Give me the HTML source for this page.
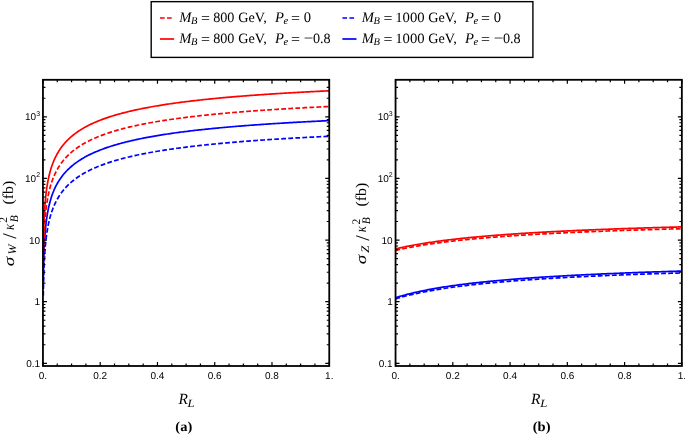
<!DOCTYPE html><html><head><meta charset="utf-8"><title>Cross sections vs R_L</title><style>html,body{margin:0;padding:0;background:#fff;overflow:hidden}svg{display:block;will-change:transform;text-rendering:geometricPrecision}</style></head><body>
<svg width="685" height="434" viewBox="0 0 685 434">
<rect width="685" height="434" fill="#fff"/>
<clipPath id="ca"><rect x="42.95" y="78.80" width="286.30" height="287.20"/></clipPath>
<clipPath id="cb"><rect x="395.55" y="78.80" width="286.30" height="287.20"/></clipPath>
<g clip-path="url(#ca)" fill="none" stroke-width="1.70" stroke-linejoin="round">
<path d="M43.32 295.61 L43.33 294.82 L43.34 294.03 L43.36 293.24 L43.37 292.45 L43.38 291.66 L43.39 290.87 L43.41 290.08 L43.42 289.29 L43.44 288.50 L43.45 287.71 L43.47 286.93 L43.48 286.14 L43.50 285.35 L43.51 284.56 L43.53 283.77 L43.55 282.98 L43.57 282.19 L43.58 281.40 L43.60 280.61 L43.62 279.82 L43.64 279.03 L43.66 278.24 L43.68 277.45 L43.71 276.66 L43.73 275.87 L43.75 275.09 L43.78 274.30 L43.80 273.51 L43.83 272.72 L43.85 271.93 L43.88 271.14 L43.91 270.35 L43.94 269.57 L43.97 268.78 L44.00 267.99 L44.03 267.20 L44.06 266.41 L44.09 265.62 L44.13 264.84 L44.16 264.05 L44.20 263.26 L44.24 262.47 L44.28 261.69 L44.32 260.90 L44.36 260.11 L44.40 259.32 L44.44 258.54 L44.49 257.75 L44.53 256.96 L44.58 256.18 L44.63 255.39 L44.68 254.60 L44.73 253.82 L44.79 253.03 L44.84 252.25 L44.90 251.46 L44.96 250.67 L45.02 249.89 L45.08 249.10 L45.14 248.32 L45.21 247.53 L45.28 246.75 L45.35 245.96 L45.42 245.18 L45.49 244.39 L45.57 243.61 L45.65 242.83 L45.73 242.04 L45.81 241.26 L45.90 240.48 L45.99 239.69 L46.08 238.91 L46.17 238.13 L46.27 237.35 L46.37 236.56 L46.47 235.78 L46.57 235.00 L46.68 234.22 L46.80 233.44 L46.91 232.66 L47.03 231.88 L47.15 231.10 L47.28 230.32 L47.41 229.54 L47.54 228.76 L47.68 227.98 L47.82 227.21 L47.97 226.43 L48.12 225.65 L48.27 224.87 L48.43 224.10 L48.60 223.32 L48.77 222.55 L48.94 221.77 L49.12 221.00 L49.31 220.22 L49.50 219.45 L49.69 218.67 L49.89 217.90 L50.10 217.13 L50.32 216.36 L50.54 215.59 L50.77 214.82 L51.00 214.05 L51.24 213.28 L51.49 212.51 L51.75 211.74 L52.01 210.97 L52.28 210.21 L52.56 209.44 L52.85 208.68 L53.15 207.91 L53.45 207.15 L53.77 206.39 L54.09 205.63 L54.43 204.86 L54.77 204.10 L55.13 203.34 L55.49 202.59 L55.87 201.83 L56.26 201.07 L56.66 200.32 L57.07 199.56 L57.27 199.21 L58.70 196.78 L60.13 194.58 L61.56 192.57 L62.99 190.71 L64.42 188.99 L65.85 187.38 L67.29 185.88 L68.72 184.48 L70.15 183.15 L71.58 181.90 L73.01 180.72 L74.44 179.59 L75.87 178.52 L77.31 177.50 L78.74 176.53 L80.17 175.60 L81.60 174.71 L83.03 173.85 L84.46 173.03 L85.90 172.24 L87.33 171.48 L88.76 170.74 L90.19 170.04 L91.62 169.35 L93.05 168.69 L94.48 168.05 L95.92 167.43 L97.35 166.83 L98.78 166.25 L100.21 165.68 L101.64 165.13 L103.07 164.60 L104.50 164.08 L105.94 163.57 L107.37 163.08 L108.80 162.60 L110.23 162.13 L111.66 161.68 L113.09 161.23 L114.53 160.80 L115.96 160.38 L117.39 159.96 L118.82 159.56 L120.25 159.16 L121.68 158.78 L123.11 158.40 L124.55 158.03 L125.98 157.67 L127.41 157.32 L128.84 156.97 L130.27 156.63 L131.70 156.30 L133.13 155.97 L134.57 155.65 L136.00 155.34 L137.43 155.03 L138.86 154.73 L140.29 154.43 L141.72 154.14 L143.16 153.85 L144.59 153.57 L146.02 153.30 L147.45 153.03 L148.88 152.76 L150.31 152.50 L151.74 152.24 L153.18 151.99 L154.61 151.74 L156.04 151.49 L157.47 151.25 L158.90 151.02 L160.33 150.78 L161.76 150.55 L163.20 150.33 L164.63 150.11 L166.06 149.89 L167.49 149.67 L168.92 149.46 L170.35 149.25 L171.79 149.04 L173.22 148.84 L174.65 148.64 L176.08 148.44 L177.51 148.24 L178.94 148.05 L180.37 147.86 L181.81 147.67 L183.24 147.49 L184.67 147.31 L186.10 147.13 L187.53 146.95 L188.96 146.78 L190.39 146.60 L191.83 146.43 L193.26 146.26 L194.69 146.10 L196.12 145.93 L197.55 145.77 L198.98 145.61 L200.42 145.46 L201.85 145.30 L203.28 145.15 L204.71 144.99 L206.14 144.84 L207.57 144.69 L209.00 144.55 L210.44 144.40 L211.87 144.26 L213.30 144.12 L214.73 143.98 L216.16 143.84 L217.59 143.70 L219.02 143.56 L220.46 143.43 L221.89 143.30 L223.32 143.17 L224.75 143.04 L226.18 142.91 L227.61 142.78 L229.05 142.66 L230.48 142.53 L231.91 142.41 L233.34 142.29 L234.77 142.17 L236.20 142.05 L237.63 141.93 L239.07 141.82 L240.50 141.70 L241.93 141.59 L243.36 141.47 L244.79 141.36 L246.22 141.25 L247.65 141.14 L249.09 141.03 L250.52 140.92 L251.95 140.82 L253.38 140.71 L254.81 140.61 L256.24 140.50 L257.68 140.40 L259.11 140.30 L260.54 140.20 L261.97 140.10 L263.40 140.00 L264.83 139.90 L266.26 139.81 L267.70 139.71 L269.13 139.62 L270.56 139.52 L271.99 139.43 L273.42 139.34 L274.85 139.24 L276.28 139.15 L277.72 139.06 L279.15 138.97 L280.58 138.89 L282.01 138.80 L283.44 138.71 L284.87 138.63 L286.31 138.54 L287.74 138.46 L289.17 138.37 L290.60 138.29 L292.03 138.21 L293.46 138.12 L294.89 138.04 L296.33 137.96 L297.76 137.88 L299.19 137.80 L300.62 137.72 L302.05 137.65 L303.48 137.57 L304.91 137.49 L306.35 137.42 L307.78 137.34 L309.21 137.27 L310.64 137.19 L312.07 137.12 L313.50 137.04 L314.94 136.97 L316.37 136.90 L317.80 136.83 L319.23 136.76 L320.66 136.69 L322.09 136.62 L323.52 136.55 L324.96 136.48 L326.39 136.41 L327.82 136.34 L329.25 136.28" stroke="#0000ff" stroke-dasharray="4.8 2.24" stroke-dashoffset="0.35"/>
<path d="M43.32 279.96 L43.33 279.17 L43.34 278.38 L43.36 277.59 L43.37 276.80 L43.38 276.01 L43.39 275.22 L43.41 274.43 L43.42 273.64 L43.44 272.85 L43.45 272.06 L43.47 271.27 L43.48 270.48 L43.50 269.69 L43.51 268.90 L43.53 268.11 L43.55 267.32 L43.57 266.53 L43.58 265.74 L43.60 264.95 L43.62 264.16 L43.64 263.37 L43.66 262.58 L43.68 261.80 L43.71 261.01 L43.73 260.22 L43.75 259.43 L43.78 258.64 L43.80 257.85 L43.83 257.06 L43.85 256.27 L43.88 255.48 L43.91 254.70 L43.94 253.91 L43.97 253.12 L44.00 252.33 L44.03 251.54 L44.06 250.76 L44.09 249.97 L44.13 249.18 L44.16 248.39 L44.20 247.60 L44.24 246.82 L44.28 246.03 L44.32 245.24 L44.36 244.45 L44.40 243.67 L44.44 242.88 L44.49 242.09 L44.53 241.31 L44.58 240.52 L44.63 239.73 L44.68 238.95 L44.73 238.16 L44.79 237.37 L44.84 236.59 L44.90 235.80 L44.96 235.02 L45.02 234.23 L45.08 233.45 L45.14 232.66 L45.21 231.88 L45.28 231.09 L45.35 230.31 L45.42 229.52 L45.49 228.74 L45.57 227.95 L45.65 227.17 L45.73 226.39 L45.81 225.60 L45.90 224.82 L45.99 224.04 L46.08 223.25 L46.17 222.47 L46.27 221.69 L46.37 220.91 L46.47 220.13 L46.57 219.34 L46.68 218.56 L46.80 217.78 L46.91 217.00 L47.03 216.22 L47.15 215.44 L47.28 214.66 L47.41 213.88 L47.54 213.10 L47.68 212.33 L47.82 211.55 L47.97 210.77 L48.12 209.99 L48.27 209.22 L48.43 208.44 L48.60 207.66 L48.77 206.89 L48.94 206.11 L49.12 205.34 L49.31 204.56 L49.50 203.79 L49.69 203.02 L49.89 202.24 L50.10 201.47 L50.32 200.70 L50.54 199.93 L50.77 199.16 L51.00 198.39 L51.24 197.62 L51.49 196.85 L51.75 196.08 L52.01 195.32 L52.28 194.55 L52.56 193.79 L52.85 193.02 L53.15 192.26 L53.45 191.49 L53.77 190.73 L54.09 189.97 L54.43 189.21 L54.77 188.45 L55.13 187.69 L55.49 186.93 L55.87 186.17 L56.26 185.42 L56.66 184.66 L57.07 183.91 L57.27 183.55 L58.70 181.13 L60.13 178.92 L61.56 176.91 L62.99 175.05 L64.42 173.33 L65.85 171.73 L67.29 170.23 L68.72 168.82 L70.15 167.50 L71.58 166.24 L73.01 165.06 L74.44 163.94 L75.87 162.87 L77.31 161.85 L78.74 160.87 L80.17 159.94 L81.60 159.05 L83.03 158.20 L84.46 157.37 L85.90 156.58 L87.33 155.82 L88.76 155.09 L90.19 154.38 L91.62 153.69 L93.05 153.03 L94.48 152.39 L95.92 151.77 L97.35 151.17 L98.78 150.59 L100.21 150.02 L101.64 149.47 L103.07 148.94 L104.50 148.42 L105.94 147.91 L107.37 147.42 L108.80 146.94 L110.23 146.48 L111.66 146.02 L113.09 145.58 L114.53 145.14 L115.96 144.72 L117.39 144.31 L118.82 143.90 L120.25 143.51 L121.68 143.12 L123.11 142.74 L124.55 142.37 L125.98 142.01 L127.41 141.66 L128.84 141.31 L130.27 140.97 L131.70 140.64 L133.13 140.31 L134.57 139.99 L136.00 139.68 L137.43 139.37 L138.86 139.07 L140.29 138.77 L141.72 138.48 L143.16 138.20 L144.59 137.92 L146.02 137.64 L147.45 137.37 L148.88 137.10 L150.31 136.84 L151.74 136.58 L153.18 136.33 L154.61 136.08 L156.04 135.84 L157.47 135.60 L158.90 135.36 L160.33 135.13 L161.76 134.90 L163.20 134.67 L164.63 134.45 L166.06 134.23 L167.49 134.01 L168.92 133.80 L170.35 133.59 L171.79 133.38 L173.22 133.18 L174.65 132.98 L176.08 132.78 L177.51 132.59 L178.94 132.39 L180.37 132.20 L181.81 132.02 L183.24 131.83 L184.67 131.65 L186.10 131.47 L187.53 131.29 L188.96 131.12 L190.39 130.95 L191.83 130.78 L193.26 130.61 L194.69 130.44 L196.12 130.28 L197.55 130.12 L198.98 129.96 L200.42 129.80 L201.85 129.64 L203.28 129.49 L204.71 129.34 L206.14 129.19 L207.57 129.04 L209.00 128.89 L210.44 128.74 L211.87 128.60 L213.30 128.46 L214.73 128.32 L216.16 128.18 L217.59 128.04 L219.02 127.91 L220.46 127.77 L221.89 127.64 L223.32 127.51 L224.75 127.38 L226.18 127.25 L227.61 127.13 L229.05 127.00 L230.48 126.88 L231.91 126.75 L233.34 126.63 L234.77 126.51 L236.20 126.39 L237.63 126.27 L239.07 126.16 L240.50 126.04 L241.93 125.93 L243.36 125.82 L244.79 125.70 L246.22 125.59 L247.65 125.48 L249.09 125.37 L250.52 125.27 L251.95 125.16 L253.38 125.06 L254.81 124.95 L256.24 124.85 L257.68 124.75 L259.11 124.64 L260.54 124.54 L261.97 124.44 L263.40 124.34 L264.83 124.25 L266.26 124.15 L267.70 124.05 L269.13 123.96 L270.56 123.87 L271.99 123.77 L273.42 123.68 L274.85 123.59 L276.28 123.50 L277.72 123.41 L279.15 123.32 L280.58 123.23 L282.01 123.14 L283.44 123.05 L284.87 122.97 L286.31 122.88 L287.74 122.80 L289.17 122.71 L290.60 122.63 L292.03 122.55 L293.46 122.47 L294.89 122.38 L296.33 122.30 L297.76 122.22 L299.19 122.15 L300.62 122.07 L302.05 121.99 L303.48 121.91 L304.91 121.83 L306.35 121.76 L307.78 121.68 L309.21 121.61 L310.64 121.53 L312.07 121.46 L313.50 121.39 L314.94 121.31 L316.37 121.24 L317.80 121.17 L319.23 121.10 L320.66 121.03 L322.09 120.96 L323.52 120.89 L324.96 120.82 L326.39 120.75 L327.82 120.69 L329.25 120.62" stroke="#0000ff"/>
<path d="M43.32 265.84 L43.33 265.05 L43.34 264.26 L43.36 263.47 L43.37 262.68 L43.38 261.89 L43.39 261.10 L43.41 260.31 L43.42 259.52 L43.44 258.74 L43.45 257.95 L43.47 257.16 L43.48 256.37 L43.50 255.58 L43.51 254.79 L43.53 254.00 L43.55 253.21 L43.57 252.42 L43.58 251.63 L43.60 250.84 L43.62 250.05 L43.64 249.26 L43.66 248.47 L43.68 247.68 L43.71 246.89 L43.73 246.10 L43.75 245.32 L43.78 244.53 L43.80 243.74 L43.83 242.95 L43.85 242.16 L43.88 241.37 L43.91 240.58 L43.94 239.80 L43.97 239.01 L44.00 238.22 L44.03 237.43 L44.06 236.64 L44.09 235.85 L44.13 235.07 L44.16 234.28 L44.20 233.49 L44.24 232.70 L44.28 231.92 L44.32 231.13 L44.36 230.34 L44.40 229.55 L44.44 228.77 L44.49 227.98 L44.53 227.19 L44.58 226.41 L44.63 225.62 L44.68 224.83 L44.73 224.05 L44.79 223.26 L44.84 222.48 L44.90 221.69 L44.96 220.90 L45.02 220.12 L45.08 219.33 L45.14 218.55 L45.21 217.76 L45.28 216.98 L45.35 216.19 L45.42 215.41 L45.49 214.63 L45.57 213.84 L45.65 213.06 L45.73 212.27 L45.81 211.49 L45.90 210.71 L45.99 209.92 L46.08 209.14 L46.17 208.36 L46.27 207.58 L46.37 206.79 L46.47 206.01 L46.57 205.23 L46.68 204.45 L46.80 203.67 L46.91 202.89 L47.03 202.11 L47.15 201.33 L47.28 200.55 L47.41 199.77 L47.54 198.99 L47.68 198.21 L47.82 197.44 L47.97 196.66 L48.12 195.88 L48.27 195.10 L48.43 194.33 L48.60 193.55 L48.77 192.78 L48.94 192.00 L49.12 191.23 L49.31 190.45 L49.50 189.68 L49.69 188.91 L49.89 188.13 L50.10 187.36 L50.32 186.59 L50.54 185.82 L50.77 185.05 L51.00 184.28 L51.24 183.51 L51.49 182.74 L51.75 181.97 L52.01 181.21 L52.28 180.44 L52.56 179.67 L52.85 178.91 L53.15 178.14 L53.45 177.38 L53.77 176.62 L54.09 175.86 L54.43 175.09 L54.77 174.33 L55.13 173.58 L55.49 172.82 L55.87 172.06 L56.26 171.30 L56.66 170.55 L57.07 169.79 L57.27 169.44 L58.70 167.01 L60.13 164.81 L61.56 162.80 L62.99 160.94 L64.42 159.22 L65.85 157.61 L67.29 156.11 L68.72 154.71 L70.15 153.38 L71.58 152.13 L73.01 150.95 L74.44 149.82 L75.87 148.75 L77.31 147.73 L78.74 146.76 L80.17 145.83 L81.60 144.94 L83.03 144.08 L84.46 143.26 L85.90 142.47 L87.33 141.71 L88.76 140.97 L90.19 140.27 L91.62 139.58 L93.05 138.92 L94.48 138.28 L95.92 137.66 L97.35 137.06 L98.78 136.48 L100.21 135.91 L101.64 135.36 L103.07 134.83 L104.50 134.31 L105.94 133.80 L107.37 133.31 L108.80 132.83 L110.23 132.36 L111.66 131.91 L113.09 131.46 L114.53 131.03 L115.96 130.61 L117.39 130.19 L118.82 129.79 L120.25 129.40 L121.68 129.01 L123.11 128.63 L124.55 128.26 L125.98 127.90 L127.41 127.55 L128.84 127.20 L130.27 126.86 L131.70 126.53 L133.13 126.20 L134.57 125.88 L136.00 125.57 L137.43 125.26 L138.86 124.96 L140.29 124.66 L141.72 124.37 L143.16 124.08 L144.59 123.80 L146.02 123.53 L147.45 123.26 L148.88 122.99 L150.31 122.73 L151.74 122.47 L153.18 122.22 L154.61 121.97 L156.04 121.73 L157.47 121.48 L158.90 121.25 L160.33 121.01 L161.76 120.78 L163.20 120.56 L164.63 120.34 L166.06 120.12 L167.49 119.90 L168.92 119.69 L170.35 119.48 L171.79 119.27 L173.22 119.07 L174.65 118.87 L176.08 118.67 L177.51 118.47 L178.94 118.28 L180.37 118.09 L181.81 117.91 L183.24 117.72 L184.67 117.54 L186.10 117.36 L187.53 117.18 L188.96 117.01 L190.39 116.83 L191.83 116.66 L193.26 116.50 L194.69 116.33 L196.12 116.17 L197.55 116.00 L198.98 115.84 L200.42 115.69 L201.85 115.53 L203.28 115.38 L204.71 115.22 L206.14 115.07 L207.57 114.92 L209.00 114.78 L210.44 114.63 L211.87 114.49 L213.30 114.35 L214.73 114.21 L216.16 114.07 L217.59 113.93 L219.02 113.80 L220.46 113.66 L221.89 113.53 L223.32 113.40 L224.75 113.27 L226.18 113.14 L227.61 113.01 L229.05 112.89 L230.48 112.76 L231.91 112.64 L233.34 112.52 L234.77 112.40 L236.20 112.28 L237.63 112.16 L239.07 112.05 L240.50 111.93 L241.93 111.82 L243.36 111.70 L244.79 111.59 L246.22 111.48 L247.65 111.37 L249.09 111.26 L250.52 111.16 L251.95 111.05 L253.38 110.94 L254.81 110.84 L256.24 110.74 L257.68 110.63 L259.11 110.53 L260.54 110.43 L261.97 110.33 L263.40 110.23 L264.83 110.13 L266.26 110.04 L267.70 109.94 L269.13 109.85 L270.56 109.75 L271.99 109.66 L273.42 109.57 L274.85 109.48 L276.28 109.38 L277.72 109.29 L279.15 109.21 L280.58 109.12 L282.01 109.03 L283.44 108.94 L284.87 108.86 L286.31 108.77 L287.74 108.69 L289.17 108.60 L290.60 108.52 L292.03 108.44 L293.46 108.35 L294.89 108.27 L296.33 108.19 L297.76 108.11 L299.19 108.03 L300.62 107.95 L302.05 107.88 L303.48 107.80 L304.91 107.72 L306.35 107.65 L307.78 107.57 L309.21 107.50 L310.64 107.42 L312.07 107.35 L313.50 107.27 L314.94 107.20 L316.37 107.13 L317.80 107.06 L319.23 106.99 L320.66 106.92 L322.09 106.85 L323.52 106.78 L324.96 106.71 L326.39 106.64 L327.82 106.57 L329.25 106.51" stroke="#ff0000" stroke-dasharray="4.8 2.24" stroke-dashoffset="0.35"/>
<path d="M43.32 250.15 L43.33 249.36 L43.34 248.57 L43.36 247.78 L43.37 246.99 L43.38 246.20 L43.39 245.41 L43.41 244.62 L43.42 243.83 L43.44 243.04 L43.45 242.25 L43.47 241.46 L43.48 240.67 L43.50 239.88 L43.51 239.09 L43.53 238.30 L43.55 237.51 L43.57 236.72 L43.58 235.93 L43.60 235.14 L43.62 234.35 L43.64 233.56 L43.66 232.77 L43.68 231.98 L43.71 231.20 L43.73 230.41 L43.75 229.62 L43.78 228.83 L43.80 228.04 L43.83 227.25 L43.85 226.46 L43.88 225.67 L43.91 224.89 L43.94 224.10 L43.97 223.31 L44.00 222.52 L44.03 221.73 L44.06 220.94 L44.09 220.16 L44.13 219.37 L44.16 218.58 L44.20 217.79 L44.24 217.00 L44.28 216.22 L44.32 215.43 L44.36 214.64 L44.40 213.86 L44.44 213.07 L44.49 212.28 L44.53 211.49 L44.58 210.71 L44.63 209.92 L44.68 209.14 L44.73 208.35 L44.79 207.56 L44.84 206.78 L44.90 205.99 L44.96 205.21 L45.02 204.42 L45.08 203.63 L45.14 202.85 L45.21 202.06 L45.28 201.28 L45.35 200.49 L45.42 199.71 L45.49 198.93 L45.57 198.14 L45.65 197.36 L45.73 196.57 L45.81 195.79 L45.90 195.01 L45.99 194.23 L46.08 193.44 L46.17 192.66 L46.27 191.88 L46.37 191.10 L46.47 190.31 L46.57 189.53 L46.68 188.75 L46.80 187.97 L46.91 187.19 L47.03 186.41 L47.15 185.63 L47.28 184.85 L47.41 184.07 L47.54 183.29 L47.68 182.52 L47.82 181.74 L47.97 180.96 L48.12 180.18 L48.27 179.41 L48.43 178.63 L48.60 177.85 L48.77 177.08 L48.94 176.30 L49.12 175.53 L49.31 174.75 L49.50 173.98 L49.69 173.21 L49.89 172.43 L50.10 171.66 L50.32 170.89 L50.54 170.12 L50.77 169.35 L51.00 168.58 L51.24 167.81 L51.49 167.04 L51.75 166.27 L52.01 165.51 L52.28 164.74 L52.56 163.97 L52.85 163.21 L53.15 162.45 L53.45 161.68 L53.77 160.92 L54.09 160.16 L54.43 159.40 L54.77 158.64 L55.13 157.88 L55.49 157.12 L55.87 156.36 L56.26 155.60 L56.66 154.85 L57.07 154.09 L57.27 153.74 L58.70 151.32 L60.13 149.11 L61.56 147.10 L62.99 145.24 L64.42 143.52 L65.85 141.91 L67.29 140.42 L68.72 139.01 L70.15 137.68 L71.58 136.43 L73.01 135.25 L74.44 134.12 L75.87 133.06 L77.31 132.04 L78.74 131.06 L80.17 130.13 L81.60 129.24 L83.03 128.38 L84.46 127.56 L85.90 126.77 L87.33 126.01 L88.76 125.28 L90.19 124.57 L91.62 123.88 L93.05 123.22 L94.48 122.58 L95.92 121.96 L97.35 121.36 L98.78 120.78 L100.21 120.21 L101.64 119.66 L103.07 119.13 L104.50 118.61 L105.94 118.10 L107.37 117.61 L108.80 117.13 L110.23 116.66 L111.66 116.21 L113.09 115.77 L114.53 115.33 L115.96 114.91 L117.39 114.50 L118.82 114.09 L120.25 113.70 L121.68 113.31 L123.11 112.93 L124.55 112.56 L125.98 112.20 L127.41 111.85 L128.84 111.50 L130.27 111.16 L131.70 110.83 L133.13 110.50 L134.57 110.18 L136.00 109.87 L137.43 109.56 L138.86 109.26 L140.29 108.96 L141.72 108.67 L143.16 108.39 L144.59 108.11 L146.02 107.83 L147.45 107.56 L148.88 107.29 L150.31 107.03 L151.74 106.77 L153.18 106.52 L154.61 106.27 L156.04 106.03 L157.47 105.79 L158.90 105.55 L160.33 105.32 L161.76 105.09 L163.20 104.86 L164.63 104.64 L166.06 104.42 L167.49 104.20 L168.92 103.99 L170.35 103.78 L171.79 103.57 L173.22 103.37 L174.65 103.17 L176.08 102.97 L177.51 102.78 L178.94 102.58 L180.37 102.39 L181.81 102.21 L183.24 102.02 L184.67 101.84 L186.10 101.66 L187.53 101.48 L188.96 101.31 L190.39 101.14 L191.83 100.96 L193.26 100.80 L194.69 100.63 L196.12 100.47 L197.55 100.30 L198.98 100.14 L200.42 99.99 L201.85 99.83 L203.28 99.68 L204.71 99.52 L206.14 99.37 L207.57 99.23 L209.00 99.08 L210.44 98.93 L211.87 98.79 L213.30 98.65 L214.73 98.51 L216.16 98.37 L217.59 98.23 L219.02 98.10 L220.46 97.96 L221.89 97.83 L223.32 97.70 L224.75 97.57 L226.18 97.44 L227.61 97.31 L229.05 97.19 L230.48 97.07 L231.91 96.94 L233.34 96.82 L234.77 96.70 L236.20 96.58 L237.63 96.46 L239.07 96.35 L240.50 96.23 L241.93 96.12 L243.36 96.00 L244.79 95.89 L246.22 95.78 L247.65 95.67 L249.09 95.56 L250.52 95.46 L251.95 95.35 L253.38 95.24 L254.81 95.14 L256.24 95.04 L257.68 94.93 L259.11 94.83 L260.54 94.73 L261.97 94.63 L263.40 94.53 L264.83 94.44 L266.26 94.34 L267.70 94.24 L269.13 94.15 L270.56 94.05 L271.99 93.96 L273.42 93.87 L274.85 93.78 L276.28 93.69 L277.72 93.60 L279.15 93.51 L280.58 93.42 L282.01 93.33 L283.44 93.24 L284.87 93.16 L286.31 93.07 L287.74 92.99 L289.17 92.90 L290.60 92.82 L292.03 92.74 L293.46 92.66 L294.89 92.57 L296.33 92.49 L297.76 92.41 L299.19 92.33 L300.62 92.26 L302.05 92.18 L303.48 92.10 L304.91 92.02 L306.35 91.95 L307.78 91.87 L309.21 91.80 L310.64 91.72 L312.07 91.65 L313.50 91.58 L314.94 91.50 L316.37 91.43 L317.80 91.36 L319.23 91.29 L320.66 91.22 L322.09 91.15 L323.52 91.08 L324.96 91.01 L326.39 90.94 L327.82 90.88 L329.25 90.81" stroke="#ff0000"/>
</g>
<rect x="42.95" y="79.80" width="286.30" height="286.20" fill="none" stroke="#000" stroke-width="1.8"/>
<path d="M42.95 366.00V362.00 M42.95 79.80V83.80 M57.27 366.00V363.50 M57.27 79.80V82.30 M71.58 366.00V363.50 M71.58 79.80V82.30 M85.90 366.00V363.50 M85.90 79.80V82.30 M100.21 366.00V362.00 M100.21 79.80V83.80 M114.53 366.00V363.50 M114.53 79.80V82.30 M128.84 366.00V363.50 M128.84 79.80V82.30 M143.16 366.00V363.50 M143.16 79.80V82.30 M157.47 366.00V362.00 M157.47 79.80V83.80 M171.79 366.00V363.50 M171.79 79.80V82.30 M186.10 366.00V363.50 M186.10 79.80V82.30 M200.42 366.00V363.50 M200.42 79.80V82.30 M214.73 366.00V362.00 M214.73 79.80V83.80 M229.05 366.00V363.50 M229.05 79.80V82.30 M243.36 366.00V363.50 M243.36 79.80V82.30 M257.68 366.00V363.50 M257.68 79.80V82.30 M271.99 366.00V362.00 M271.99 79.80V83.80 M286.31 366.00V363.50 M286.31 79.80V82.30 M300.62 366.00V363.50 M300.62 79.80V82.30 M314.94 366.00V363.50 M314.94 79.80V82.30 M329.25 366.00V362.00 M329.25 79.80V83.80 M42.95 363.30H46.95 M329.25 363.30H325.25 M42.95 344.75H45.45 M329.25 344.75H326.75 M42.95 333.90H45.45 M329.25 333.90H326.75 M42.95 326.20H45.45 M329.25 326.20H326.75 M42.95 320.23H45.45 M329.25 320.23H326.75 M42.95 315.35H45.45 M329.25 315.35H326.75 M42.95 311.22H45.45 M329.25 311.22H326.75 M42.95 307.65H45.45 M329.25 307.65H326.75 M42.95 304.49H45.45 M329.25 304.49H326.75 M42.95 301.68H46.95 M329.25 301.68H325.25 M42.95 283.12H45.45 M329.25 283.12H326.75 M42.95 272.27H45.45 M329.25 272.27H326.75 M42.95 264.57H45.45 M329.25 264.57H326.75 M42.95 258.60H45.45 M329.25 258.60H326.75 M42.95 253.72H45.45 M329.25 253.72H326.75 M42.95 249.60H45.45 M329.25 249.60H326.75 M42.95 246.02H45.45 M329.25 246.02H326.75 M42.95 242.87H45.45 M329.25 242.87H326.75 M42.95 240.05H46.95 M329.25 240.05H325.25 M42.95 221.50H45.45 M329.25 221.50H326.75 M42.95 210.65H45.45 M329.25 210.65H326.75 M42.95 202.95H45.45 M329.25 202.95H326.75 M42.95 196.98H45.45 M329.25 196.98H326.75 M42.95 192.10H45.45 M329.25 192.10H326.75 M42.95 187.97H45.45 M329.25 187.97H326.75 M42.95 184.40H45.45 M329.25 184.40H326.75 M42.95 181.24H45.45 M329.25 181.24H326.75 M42.95 178.43H46.95 M329.25 178.43H325.25 M42.95 159.87H45.45 M329.25 159.87H326.75 M42.95 149.02H45.45 M329.25 149.02H326.75 M42.95 141.32H45.45 M329.25 141.32H326.75 M42.95 135.35H45.45 M329.25 135.35H326.75 M42.95 130.47H45.45 M329.25 130.47H326.75 M42.95 126.35H45.45 M329.25 126.35H326.75 M42.95 122.77H45.45 M329.25 122.77H326.75 M42.95 119.62H45.45 M329.25 119.62H326.75 M42.95 116.80H46.95 M329.25 116.80H325.25 M42.95 98.25H45.45 M329.25 98.25H326.75 M42.95 87.40H45.45 M329.25 87.40H326.75" stroke="#000" stroke-width="1.2" fill="none"/>
<text x="40.10" y="366.90" font-family="Liberation Sans" font-size="10" text-anchor="end">0.1</text>
<text x="40.10" y="305.28" font-family="Liberation Sans" font-size="10" text-anchor="end">1</text>
<text x="40.10" y="243.65" font-family="Liberation Sans" font-size="10" text-anchor="end">10</text>
<text x="40.10" y="182.03" font-family="Liberation Sans" font-size="10" text-anchor="end">10<tspan font-size="7" dy="-4.8">2</tspan></text>
<text x="40.10" y="120.40" font-family="Liberation Sans" font-size="10" text-anchor="end">10<tspan font-size="7" dy="-4.8">3</tspan></text>
<text x="42.95" y="379.2" font-family="Liberation Sans" font-size="10" text-anchor="middle">0.</text>
<text x="100.21" y="379.2" font-family="Liberation Sans" font-size="10" text-anchor="middle">0.2</text>
<text x="157.47" y="379.2" font-family="Liberation Sans" font-size="10" text-anchor="middle">0.4</text>
<text x="214.73" y="379.2" font-family="Liberation Sans" font-size="10" text-anchor="middle">0.6</text>
<text x="271.99" y="379.2" font-family="Liberation Sans" font-size="10" text-anchor="middle">0.8</text>
<text x="329.25" y="379.2" font-family="Liberation Sans" font-size="10" text-anchor="middle">1.</text>
<g clip-path="url(#cb)" fill="none" stroke-width="1.70" stroke-linejoin="round">
<path d="M395.55 298.86 L396.98 298.43 L398.41 298.00 L399.84 297.59 L401.28 297.19 L402.71 296.80 L404.14 296.42 L405.57 296.05 L407.00 295.68 L408.43 295.33 L409.87 294.98 L411.30 294.64 L412.73 294.31 L414.16 293.98 L415.59 293.66 L417.02 293.35 L418.45 293.05 L419.89 292.75 L421.32 292.45 L422.75 292.17 L424.18 291.88 L425.61 291.61 L427.04 291.34 L428.47 291.07 L429.91 290.81 L431.34 290.55 L432.77 290.30 L434.20 290.05 L435.63 289.81 L437.06 289.57 L438.50 289.34 L439.93 289.11 L441.36 288.88 L442.79 288.66 L444.22 288.44 L445.65 288.23 L447.08 288.02 L448.52 287.81 L449.95 287.60 L451.38 287.40 L452.81 287.20 L454.24 287.01 L455.67 286.81 L457.10 286.63 L458.54 286.44 L459.97 286.25 L461.40 286.07 L462.83 285.90 L464.26 285.72 L465.69 285.55 L467.12 285.38 L468.56 285.21 L469.99 285.04 L471.42 284.88 L472.85 284.72 L474.28 284.56 L475.71 284.40 L477.15 284.25 L478.58 284.09 L480.01 283.94 L481.44 283.79 L482.87 283.65 L484.30 283.50 L485.73 283.36 L487.17 283.22 L488.60 283.08 L490.03 282.94 L491.46 282.81 L492.89 282.67 L494.32 282.54 L495.75 282.41 L497.19 282.28 L498.62 282.15 L500.05 282.03 L501.48 281.90 L502.91 281.78 L504.34 281.66 L505.78 281.54 L507.21 281.42 L508.64 281.30 L510.07 281.18 L511.50 281.07 L512.93 280.95 L514.36 280.84 L515.80 280.73 L517.23 280.62 L518.66 280.51 L520.09 280.41 L521.52 280.30 L522.95 280.19 L524.38 280.09 L525.82 279.99 L527.25 279.89 L528.68 279.79 L530.11 279.69 L531.54 279.59 L532.97 279.49 L534.41 279.39 L535.84 279.30 L537.27 279.20 L538.70 279.11 L540.13 279.02 L541.56 278.93 L542.99 278.83 L544.43 278.74 L545.86 278.66 L547.29 278.57 L548.72 278.48 L550.15 278.39 L551.58 278.31 L553.02 278.22 L554.45 278.14 L555.88 278.06 L557.31 277.97 L558.74 277.89 L560.17 277.81 L561.60 277.73 L563.04 277.65 L564.47 277.57 L565.90 277.50 L567.33 277.42 L568.76 277.34 L570.19 277.27 L571.62 277.19 L573.06 277.12 L574.49 277.04 L575.92 276.97 L577.35 276.90 L578.78 276.83 L580.21 276.75 L581.64 276.68 L583.08 276.61 L584.51 276.54 L585.94 276.48 L587.37 276.41 L588.80 276.34 L590.23 276.27 L591.67 276.21 L593.10 276.14 L594.53 276.07 L595.96 276.01 L597.39 275.95 L598.82 275.88 L600.25 275.82 L601.69 275.76 L603.12 275.69 L604.55 275.63 L605.98 275.57 L607.41 275.51 L608.84 275.45 L610.28 275.39 L611.71 275.33 L613.14 275.27 L614.57 275.21 L616.00 275.16 L617.43 275.10 L618.86 275.04 L620.30 274.98 L621.73 274.93 L623.16 274.87 L624.59 274.82 L626.02 274.76 L627.45 274.71 L628.88 274.65 L630.32 274.60 L631.75 274.55 L633.18 274.49 L634.61 274.44 L636.04 274.39 L637.47 274.34 L638.90 274.29 L640.34 274.24 L641.77 274.19 L643.20 274.13 L644.63 274.09 L646.06 274.04 L647.49 273.99 L648.93 273.94 L650.36 273.89 L651.79 273.84 L653.22 273.79 L654.65 273.75 L656.08 273.70 L657.51 273.65 L658.95 273.61 L660.38 273.56 L661.81 273.51 L663.24 273.47 L664.67 273.42 L666.10 273.38 L667.54 273.33 L668.97 273.29 L670.40 273.25 L671.83 273.20 L673.26 273.16 L674.69 273.12 L676.12 273.07 L677.56 273.03 L678.99 272.99 L680.42 272.95 L681.85 272.90" stroke="#0000ff" stroke-dasharray="4.8 2.24" stroke-dashoffset="0.17"/>
<path d="M395.55 297.75 L396.98 297.30 L398.41 296.86 L399.84 296.43 L401.28 296.01 L402.71 295.60 L404.14 295.21 L405.57 294.82 L407.00 294.44 L408.43 294.07 L409.87 293.71 L411.30 293.36 L412.73 293.01 L414.16 292.68 L415.59 292.35 L417.02 292.02 L418.45 291.71 L419.89 291.40 L421.32 291.09 L422.75 290.80 L424.18 290.50 L425.61 290.22 L427.04 289.94 L428.47 289.66 L429.91 289.39 L431.34 289.13 L432.77 288.87 L434.20 288.62 L435.63 288.36 L437.06 288.12 L438.50 287.88 L439.93 287.64 L441.36 287.41 L442.79 287.18 L444.22 286.95 L445.65 286.73 L447.08 286.51 L448.52 286.30 L449.95 286.09 L451.38 285.88 L452.81 285.68 L454.24 285.48 L455.67 285.28 L457.10 285.08 L458.54 284.89 L459.97 284.70 L461.40 284.52 L462.83 284.33 L464.26 284.15 L465.69 283.98 L467.12 283.80 L468.56 283.63 L469.99 283.46 L471.42 283.29 L472.85 283.13 L474.28 282.96 L475.71 282.80 L477.15 282.64 L478.58 282.49 L480.01 282.33 L481.44 282.18 L482.87 282.03 L484.30 281.88 L485.73 281.73 L487.17 281.59 L488.60 281.45 L490.03 281.31 L491.46 281.17 L492.89 281.03 L494.32 280.89 L495.75 280.76 L497.19 280.63 L498.62 280.50 L500.05 280.37 L501.48 280.24 L502.91 280.11 L504.34 279.99 L505.78 279.87 L507.21 279.75 L508.64 279.63 L510.07 279.51 L511.50 279.39 L512.93 279.27 L514.36 279.16 L515.80 279.05 L517.23 278.93 L518.66 278.82 L520.09 278.71 L521.52 278.60 L522.95 278.50 L524.38 278.39 L525.82 278.29 L527.25 278.18 L528.68 278.08 L530.11 277.98 L531.54 277.88 L532.97 277.78 L534.41 277.68 L535.84 277.58 L537.27 277.48 L538.70 277.39 L540.13 277.29 L541.56 277.20 L542.99 277.11 L544.43 277.02 L545.86 276.93 L547.29 276.84 L548.72 276.75 L550.15 276.66 L551.58 276.57 L553.02 276.48 L554.45 276.40 L555.88 276.31 L557.31 276.23 L558.74 276.15 L560.17 276.06 L561.60 275.98 L563.04 275.90 L564.47 275.82 L565.90 275.74 L567.33 275.66 L568.76 275.59 L570.19 275.51 L571.62 275.43 L573.06 275.36 L574.49 275.28 L575.92 275.21 L577.35 275.13 L578.78 275.06 L580.21 274.99 L581.64 274.91 L583.08 274.84 L584.51 274.77 L585.94 274.70 L587.37 274.63 L588.80 274.56 L590.23 274.50 L591.67 274.43 L593.10 274.36 L594.53 274.29 L595.96 274.23 L597.39 274.16 L598.82 274.10 L600.25 274.03 L601.69 273.97 L603.12 273.91 L604.55 273.84 L605.98 273.78 L607.41 273.72 L608.84 273.66 L610.28 273.60 L611.71 273.54 L613.14 273.48 L614.57 273.42 L616.00 273.36 L617.43 273.30 L618.86 273.24 L620.30 273.18 L621.73 273.13 L623.16 273.07 L624.59 273.01 L626.02 272.96 L627.45 272.90 L628.88 272.85 L630.32 272.79 L631.75 272.74 L633.18 272.69 L634.61 272.63 L636.04 272.58 L637.47 272.53 L638.90 272.47 L640.34 272.42 L641.77 272.37 L643.20 272.32 L644.63 272.27 L646.06 272.22 L647.49 272.17 L648.93 272.12 L650.36 272.07 L651.79 272.02 L653.22 271.97 L654.65 271.92 L656.08 271.88 L657.51 271.83 L658.95 271.78 L660.38 271.73 L661.81 271.69 L663.24 271.64 L664.67 271.60 L666.10 271.55 L667.54 271.51 L668.97 271.46 L670.40 271.42 L671.83 271.37 L673.26 271.33 L674.69 271.28 L676.12 271.24 L677.56 271.20 L678.99 271.15 L680.42 271.11 L681.85 271.07" stroke="#0000ff"/>
<path d="M395.55 250.38 L396.98 250.05 L398.41 249.73 L399.84 249.41 L401.28 249.10 L402.71 248.80 L404.14 248.50 L405.57 248.21 L407.00 247.93 L408.43 247.65 L409.87 247.38 L411.30 247.11 L412.73 246.84 L414.16 246.59 L415.59 246.33 L417.02 246.08 L418.45 245.84 L419.89 245.60 L421.32 245.37 L422.75 245.14 L424.18 244.91 L425.61 244.69 L427.04 244.47 L428.47 244.25 L429.91 244.04 L431.34 243.83 L432.77 243.63 L434.20 243.42 L435.63 243.23 L437.06 243.03 L438.50 242.84 L439.93 242.65 L441.36 242.46 L442.79 242.28 L444.22 242.10 L445.65 241.92 L447.08 241.75 L448.52 241.58 L449.95 241.41 L451.38 241.24 L452.81 241.07 L454.24 240.91 L455.67 240.75 L457.10 240.59 L458.54 240.44 L459.97 240.28 L461.40 240.13 L462.83 239.98 L464.26 239.84 L465.69 239.69 L467.12 239.55 L468.56 239.40 L469.99 239.26 L471.42 239.13 L472.85 238.99 L474.28 238.86 L475.71 238.72 L477.15 238.59 L478.58 238.46 L480.01 238.34 L481.44 238.21 L482.87 238.09 L484.30 237.96 L485.73 237.84 L487.17 237.72 L488.60 237.60 L490.03 237.48 L491.46 237.37 L492.89 237.25 L494.32 237.14 L495.75 237.03 L497.19 236.92 L498.62 236.81 L500.05 236.70 L501.48 236.59 L502.91 236.49 L504.34 236.38 L505.78 236.28 L507.21 236.18 L508.64 236.08 L510.07 235.98 L511.50 235.88 L512.93 235.78 L514.36 235.68 L515.80 235.59 L517.23 235.49 L518.66 235.40 L520.09 235.31 L521.52 235.21 L522.95 235.12 L524.38 235.03 L525.82 234.94 L527.25 234.86 L528.68 234.77 L530.11 234.68 L531.54 234.60 L532.97 234.51 L534.41 234.43 L535.84 234.35 L537.27 234.26 L538.70 234.18 L540.13 234.10 L541.56 234.02 L542.99 233.94 L544.43 233.86 L545.86 233.79 L547.29 233.71 L548.72 233.63 L550.15 233.56 L551.58 233.48 L553.02 233.41 L554.45 233.34 L555.88 233.26 L557.31 233.19 L558.74 233.12 L560.17 233.05 L561.60 232.98 L563.04 232.91 L564.47 232.84 L565.90 232.77 L567.33 232.70 L568.76 232.64 L570.19 232.57 L571.62 232.51 L573.06 232.44 L574.49 232.38 L575.92 232.31 L577.35 232.25 L578.78 232.18 L580.21 232.12 L581.64 232.06 L583.08 232.00 L584.51 231.94 L585.94 231.88 L587.37 231.82 L588.80 231.76 L590.23 231.70 L591.67 231.64 L593.10 231.58 L594.53 231.52 L595.96 231.47 L597.39 231.41 L598.82 231.35 L600.25 231.30 L601.69 231.24 L603.12 231.19 L604.55 231.13 L605.98 231.08 L607.41 231.02 L608.84 230.97 L610.28 230.92 L611.71 230.87 L613.14 230.81 L614.57 230.76 L616.00 230.71 L617.43 230.66 L618.86 230.61 L620.30 230.56 L621.73 230.51 L623.16 230.46 L624.59 230.41 L626.02 230.36 L627.45 230.31 L628.88 230.27 L630.32 230.22 L631.75 230.17 L633.18 230.12 L634.61 230.08 L636.04 230.03 L637.47 229.98 L638.90 229.94 L640.34 229.89 L641.77 229.85 L643.20 229.80 L644.63 229.76 L646.06 229.72 L647.49 229.67 L648.93 229.63 L650.36 229.59 L651.79 229.54 L653.22 229.50 L654.65 229.46 L656.08 229.42 L657.51 229.37 L658.95 229.33 L660.38 229.29 L661.81 229.25 L663.24 229.21 L664.67 229.17 L666.10 229.13 L667.54 229.09 L668.97 229.05 L670.40 229.01 L671.83 228.97 L673.26 228.93 L674.69 228.90 L676.12 228.86 L677.56 228.82 L678.99 228.78 L680.42 228.74 L681.85 228.71" stroke="#ff0000" stroke-dasharray="4.8 2.24" stroke-dashoffset="0.17"/>
<path d="M395.55 248.90 L396.98 248.56 L398.41 248.23 L399.84 247.91 L401.28 247.59 L402.71 247.28 L404.14 246.98 L405.57 246.68 L407.00 246.39 L408.43 246.11 L409.87 245.83 L411.30 245.56 L412.73 245.29 L414.16 245.02 L415.59 244.77 L417.02 244.51 L418.45 244.27 L419.89 244.02 L421.32 243.78 L422.75 243.55 L424.18 243.32 L425.61 243.09 L427.04 242.87 L428.47 242.65 L429.91 242.43 L431.34 242.22 L432.77 242.01 L434.20 241.81 L435.63 241.60 L437.06 241.41 L438.50 241.21 L439.93 241.02 L441.36 240.83 L442.79 240.64 L444.22 240.46 L445.65 240.28 L447.08 240.10 L448.52 239.93 L449.95 239.75 L451.38 239.58 L452.81 239.42 L454.24 239.25 L455.67 239.09 L457.10 238.93 L458.54 238.77 L459.97 238.61 L461.40 238.46 L462.83 238.31 L464.26 238.16 L465.69 238.01 L467.12 237.86 L468.56 237.72 L469.99 237.58 L471.42 237.44 L472.85 237.30 L474.28 237.16 L475.71 237.03 L477.15 236.90 L478.58 236.77 L480.01 236.64 L481.44 236.51 L482.87 236.38 L484.30 236.26 L485.73 236.13 L487.17 236.01 L488.60 235.89 L490.03 235.77 L491.46 235.66 L492.89 235.54 L494.32 235.42 L495.75 235.31 L497.19 235.20 L498.62 235.09 L500.05 234.98 L501.48 234.87 L502.91 234.76 L504.34 234.66 L505.78 234.55 L507.21 234.45 L508.64 234.35 L510.07 234.25 L511.50 234.14 L512.93 234.05 L514.36 233.95 L515.80 233.85 L517.23 233.75 L518.66 233.66 L520.09 233.57 L521.52 233.47 L522.95 233.38 L524.38 233.29 L525.82 233.20 L527.25 233.11 L528.68 233.02 L530.11 232.93 L531.54 232.85 L532.97 232.76 L534.41 232.68 L535.84 232.59 L537.27 232.51 L538.70 232.43 L540.13 232.35 L541.56 232.27 L542.99 232.19 L544.43 232.11 L545.86 232.03 L547.29 231.95 L548.72 231.87 L550.15 231.80 L551.58 231.72 L553.02 231.65 L554.45 231.57 L555.88 231.50 L557.31 231.43 L558.74 231.35 L560.17 231.28 L561.60 231.21 L563.04 231.14 L564.47 231.07 L565.90 231.00 L567.33 230.93 L568.76 230.86 L570.19 230.80 L571.62 230.73 L573.06 230.66 L574.49 230.60 L575.92 230.53 L577.35 230.47 L578.78 230.41 L580.21 230.34 L581.64 230.28 L583.08 230.22 L584.51 230.16 L585.94 230.09 L587.37 230.03 L588.80 229.97 L590.23 229.91 L591.67 229.85 L593.10 229.80 L594.53 229.74 L595.96 229.68 L597.39 229.62 L598.82 229.57 L600.25 229.51 L601.69 229.45 L603.12 229.40 L604.55 229.34 L605.98 229.29 L607.41 229.23 L608.84 229.18 L610.28 229.13 L611.71 229.07 L613.14 229.02 L614.57 228.97 L616.00 228.92 L617.43 228.86 L618.86 228.81 L620.30 228.76 L621.73 228.71 L623.16 228.66 L624.59 228.61 L626.02 228.56 L627.45 228.52 L628.88 228.47 L630.32 228.42 L631.75 228.37 L633.18 228.32 L634.61 228.28 L636.04 228.23 L637.47 228.18 L638.90 228.14 L640.34 228.09 L641.77 228.05 L643.20 228.00 L644.63 227.96 L646.06 227.91 L647.49 227.87 L648.93 227.82 L650.36 227.78 L651.79 227.74 L653.22 227.69 L654.65 227.65 L656.08 227.61 L657.51 227.57 L658.95 227.52 L660.38 227.48 L661.81 227.44 L663.24 227.40 L664.67 227.36 L666.10 227.32 L667.54 227.28 L668.97 227.24 L670.40 227.20 L671.83 227.16 L673.26 227.12 L674.69 227.08 L676.12 227.04 L677.56 227.01 L678.99 226.97 L680.42 226.93 L681.85 226.89" stroke="#ff0000"/>
</g>
<rect x="395.55" y="79.80" width="286.30" height="286.20" fill="none" stroke="#000" stroke-width="1.8"/>
<path d="M395.55 366.00V362.00 M395.55 79.80V83.80 M409.87 366.00V363.50 M409.87 79.80V82.30 M424.18 366.00V363.50 M424.18 79.80V82.30 M438.50 366.00V363.50 M438.50 79.80V82.30 M452.81 366.00V362.00 M452.81 79.80V83.80 M467.12 366.00V363.50 M467.12 79.80V82.30 M481.44 366.00V363.50 M481.44 79.80V82.30 M495.75 366.00V363.50 M495.75 79.80V82.30 M510.07 366.00V362.00 M510.07 79.80V83.80 M524.38 366.00V363.50 M524.38 79.80V82.30 M538.70 366.00V363.50 M538.70 79.80V82.30 M553.02 366.00V363.50 M553.02 79.80V82.30 M567.33 366.00V362.00 M567.33 79.80V83.80 M581.64 366.00V363.50 M581.64 79.80V82.30 M595.96 366.00V363.50 M595.96 79.80V82.30 M610.28 366.00V363.50 M610.28 79.80V82.30 M624.59 366.00V362.00 M624.59 79.80V83.80 M638.90 366.00V363.50 M638.90 79.80V82.30 M653.22 366.00V363.50 M653.22 79.80V82.30 M667.54 366.00V363.50 M667.54 79.80V82.30 M681.85 366.00V362.00 M681.85 79.80V83.80 M395.55 363.30H399.55 M681.85 363.30H677.85 M395.55 344.75H398.05 M681.85 344.75H679.35 M395.55 333.90H398.05 M681.85 333.90H679.35 M395.55 326.20H398.05 M681.85 326.20H679.35 M395.55 320.23H398.05 M681.85 320.23H679.35 M395.55 315.35H398.05 M681.85 315.35H679.35 M395.55 311.22H398.05 M681.85 311.22H679.35 M395.55 307.65H398.05 M681.85 307.65H679.35 M395.55 304.49H398.05 M681.85 304.49H679.35 M395.55 301.68H399.55 M681.85 301.68H677.85 M395.55 283.12H398.05 M681.85 283.12H679.35 M395.55 272.27H398.05 M681.85 272.27H679.35 M395.55 264.57H398.05 M681.85 264.57H679.35 M395.55 258.60H398.05 M681.85 258.60H679.35 M395.55 253.72H398.05 M681.85 253.72H679.35 M395.55 249.60H398.05 M681.85 249.60H679.35 M395.55 246.02H398.05 M681.85 246.02H679.35 M395.55 242.87H398.05 M681.85 242.87H679.35 M395.55 240.05H399.55 M681.85 240.05H677.85 M395.55 221.50H398.05 M681.85 221.50H679.35 M395.55 210.65H398.05 M681.85 210.65H679.35 M395.55 202.95H398.05 M681.85 202.95H679.35 M395.55 196.98H398.05 M681.85 196.98H679.35 M395.55 192.10H398.05 M681.85 192.10H679.35 M395.55 187.97H398.05 M681.85 187.97H679.35 M395.55 184.40H398.05 M681.85 184.40H679.35 M395.55 181.24H398.05 M681.85 181.24H679.35 M395.55 178.43H399.55 M681.85 178.43H677.85 M395.55 159.87H398.05 M681.85 159.87H679.35 M395.55 149.02H398.05 M681.85 149.02H679.35 M395.55 141.32H398.05 M681.85 141.32H679.35 M395.55 135.35H398.05 M681.85 135.35H679.35 M395.55 130.47H398.05 M681.85 130.47H679.35 M395.55 126.35H398.05 M681.85 126.35H679.35 M395.55 122.77H398.05 M681.85 122.77H679.35 M395.55 119.62H398.05 M681.85 119.62H679.35 M395.55 116.80H399.55 M681.85 116.80H677.85 M395.55 98.25H398.05 M681.85 98.25H679.35 M395.55 87.40H398.05 M681.85 87.40H679.35" stroke="#000" stroke-width="1.2" fill="none"/>
<text x="392.70" y="366.90" font-family="Liberation Sans" font-size="10" text-anchor="end">0.1</text>
<text x="392.70" y="305.28" font-family="Liberation Sans" font-size="10" text-anchor="end">1</text>
<text x="392.70" y="243.65" font-family="Liberation Sans" font-size="10" text-anchor="end">10</text>
<text x="392.70" y="182.03" font-family="Liberation Sans" font-size="10" text-anchor="end">10<tspan font-size="7" dy="-4.8">2</tspan></text>
<text x="392.70" y="120.40" font-family="Liberation Sans" font-size="10" text-anchor="end">10<tspan font-size="7" dy="-4.8">3</tspan></text>
<text x="395.55" y="379.2" font-family="Liberation Sans" font-size="10" text-anchor="middle">0.</text>
<text x="452.81" y="379.2" font-family="Liberation Sans" font-size="10" text-anchor="middle">0.2</text>
<text x="510.07" y="379.2" font-family="Liberation Sans" font-size="10" text-anchor="middle">0.4</text>
<text x="567.33" y="379.2" font-family="Liberation Sans" font-size="10" text-anchor="middle">0.6</text>
<text x="624.59" y="379.2" font-family="Liberation Sans" font-size="10" text-anchor="middle">0.8</text>
<text x="681.85" y="379.2" font-family="Liberation Sans" font-size="10" text-anchor="middle">1.</text>
<text transform="translate(178.48 403.70)" font-family="Liberation Serif" font-style="italic" font-size="15.50" xml:space="preserve">R</text>
<text transform="translate(187.55 406.80) scale(1.150 1.000)" font-family="Liberation Serif" font-style="italic" font-size="11.00" xml:space="preserve">L</text>
<text transform="translate(531.08 403.70)" font-family="Liberation Serif" font-style="italic" font-size="15.50" xml:space="preserve">R</text>
<text transform="translate(540.15 406.80) scale(1.150 1.000)" font-family="Liberation Serif" font-style="italic" font-size="11.00" xml:space="preserve">L</text>
<text transform="translate(175.36 430.50) scale(1.000 0.940)" font-family="Liberation Serif" font-weight="bold" font-size="14.50" xml:space="preserve">(a)</text>
<text transform="translate(532.76 430.50) scale(1.000 0.940)" font-family="Liberation Serif" font-weight="bold" font-size="14.50" xml:space="preserve">(b)</text>
<text transform="translate(13.85 266.37) rotate(-90) scale(1.200 0.950)" font-family="Liberation Serif" font-style="italic" font-size="16.00" xml:space="preserve">σ</text>
<text transform="translate(15.65 254.50) rotate(-90) scale(1.050 1.000)" font-family="Liberation Serif" font-style="italic" font-size="11.50" xml:space="preserve">W</text>
<text transform="translate(16.25 238.80) rotate(-90)" font-family="Liberation Serif" font-size="19.50" xml:space="preserve">/</text>
<text transform="translate(13.85 230.07) rotate(-90) scale(0.820 1.000)" font-family="Liberation Serif" font-style="italic" font-size="15.50" xml:space="preserve">κ</text>
<text transform="translate(7.00 222.71) rotate(-90)" font-family="Liberation Serif" font-size="11.50" xml:space="preserve">2</text>
<text transform="translate(17.95 222.31) rotate(-90)" font-family="Liberation Serif" font-style="italic" font-size="11.50" xml:space="preserve">B</text>
<text transform="translate(13.05 204.50) rotate(-90) scale(1.060 1.000)" font-family="Liberation Serif" font-size="15.00" xml:space="preserve">(fb)</text>
<text transform="translate(366.35 264.17) rotate(-90) scale(1.200 0.950)" font-family="Liberation Serif" font-style="italic" font-size="16.00" xml:space="preserve">σ</text>
<text transform="translate(368.95 252.75) rotate(-90) scale(1.100 1.000)" font-family="Liberation Serif" font-style="italic" font-size="11.50" xml:space="preserve">Z</text>
<text transform="translate(368.75 240.80) rotate(-90)" font-family="Liberation Serif" font-size="19.50" xml:space="preserve">/</text>
<text transform="translate(366.35 232.27) rotate(-90) scale(0.820 1.000)" font-family="Liberation Serif" font-style="italic" font-size="15.50" xml:space="preserve">κ</text>
<text transform="translate(359.70 224.56) rotate(-90)" font-family="Liberation Serif" font-size="11.50" xml:space="preserve">2</text>
<text transform="translate(370.45 224.16) rotate(-90)" font-family="Liberation Serif" font-style="italic" font-size="11.50" xml:space="preserve">B</text>
<text transform="translate(365.55 206.50) rotate(-90) scale(1.060 1.000)" font-family="Liberation Serif" font-size="15.00" xml:space="preserve">(fb)</text>
<rect x="151.2" y="1.65" width="381.7" height="55.75" fill="none" stroke="#000" stroke-width="1.4"/>
<path d="M160.00 18.00H171.80" stroke="#ff0000" stroke-width="1.70" stroke-dasharray="4.7 2.3"/>
<text transform="translate(179.27 21.60)" font-family="Liberation Serif" font-style="italic" font-size="14.60" xml:space="preserve">M</text>
<text transform="translate(191.10 23.50)" font-family="Liberation Serif" font-style="italic" font-size="10.50" xml:space="preserve">B</text>
<text transform="translate(200.91 23.00) scale(1.060 1.000)" font-family="Liberation Serif" font-size="15.00" xml:space="preserve">=</text>
<text transform="translate(213.16 21.60)" font-family="Liberation Serif" font-size="14.20" xml:space="preserve">800</text>
<text transform="translate(238.32 21.60)" font-family="Liberation Serif" font-size="14.20" xml:space="preserve">GeV,</text>
<text transform="translate(275.08 21.60)" font-family="Liberation Serif" font-style="italic" font-size="14.60" xml:space="preserve">P</text>
<text transform="translate(283.48 23.60)" font-family="Liberation Serif" font-style="italic" font-size="10.50" xml:space="preserve">e</text>
<text transform="translate(291.11 23.00) scale(1.060 1.000)" font-family="Liberation Serif" font-size="15.00" xml:space="preserve">=</text>
<text transform="translate(303.84 21.60)" font-family="Liberation Serif" font-size="14.60" xml:space="preserve">0</text>
<path d="M160.00 39.00H174.10" stroke="#ff0000" stroke-width="1.70"/>
<text transform="translate(179.27 42.60)" font-family="Liberation Serif" font-style="italic" font-size="14.60" xml:space="preserve">M</text>
<text transform="translate(191.10 44.50)" font-family="Liberation Serif" font-style="italic" font-size="10.50" xml:space="preserve">B</text>
<text transform="translate(200.91 44.00) scale(1.060 1.000)" font-family="Liberation Serif" font-size="15.00" xml:space="preserve">=</text>
<text transform="translate(213.16 42.60)" font-family="Liberation Serif" font-size="14.20" xml:space="preserve">800</text>
<text transform="translate(238.32 42.60)" font-family="Liberation Serif" font-size="14.20" xml:space="preserve">GeV,</text>
<text transform="translate(275.08 42.60)" font-family="Liberation Serif" font-style="italic" font-size="14.60" xml:space="preserve">P</text>
<text transform="translate(283.48 44.60)" font-family="Liberation Serif" font-style="italic" font-size="10.50" xml:space="preserve">e</text>
<text transform="translate(291.11 44.00) scale(1.060 1.000)" font-family="Liberation Serif" font-size="15.00" xml:space="preserve">=</text>
<text transform="translate(303.76 43.30) scale(1.130 1.000)" font-family="Liberation Serif" font-size="15.00" xml:space="preserve">−</text>
<text transform="translate(312.96 42.60)" font-family="Liberation Serif" font-size="14.20" xml:space="preserve">0.8</text>
<path d="M342.40 18.00H354.20" stroke="#0000ff" stroke-width="1.70" stroke-dasharray="4.7 2.3"/>
<text transform="translate(361.77 21.60)" font-family="Liberation Serif" font-style="italic" font-size="14.60" xml:space="preserve">M</text>
<text transform="translate(373.60 23.50)" font-family="Liberation Serif" font-style="italic" font-size="10.50" xml:space="preserve">B</text>
<text transform="translate(383.41 23.00) scale(1.060 1.000)" font-family="Liberation Serif" font-size="15.00" xml:space="preserve">=</text>
<text transform="translate(395.21 21.60) scale(1.035 1.000)" font-family="Liberation Serif" font-size="14.20" xml:space="preserve">1000</text>
<text transform="translate(428.32 21.60)" font-family="Liberation Serif" font-size="14.20" xml:space="preserve">GeV,</text>
<text transform="translate(465.08 21.60)" font-family="Liberation Serif" font-style="italic" font-size="14.60" xml:space="preserve">P</text>
<text transform="translate(473.48 23.60)" font-family="Liberation Serif" font-style="italic" font-size="10.50" xml:space="preserve">e</text>
<text transform="translate(481.11 23.00) scale(1.060 1.000)" font-family="Liberation Serif" font-size="15.00" xml:space="preserve">=</text>
<text transform="translate(493.84 21.60)" font-family="Liberation Serif" font-size="14.60" xml:space="preserve">0</text>
<path d="M342.40 39.00H356.50" stroke="#0000ff" stroke-width="1.70"/>
<text transform="translate(361.77 42.60)" font-family="Liberation Serif" font-style="italic" font-size="14.60" xml:space="preserve">M</text>
<text transform="translate(373.60 44.50)" font-family="Liberation Serif" font-style="italic" font-size="10.50" xml:space="preserve">B</text>
<text transform="translate(383.41 44.00) scale(1.060 1.000)" font-family="Liberation Serif" font-size="15.00" xml:space="preserve">=</text>
<text transform="translate(395.21 42.60) scale(1.035 1.000)" font-family="Liberation Serif" font-size="14.20" xml:space="preserve">1000</text>
<text transform="translate(428.32 42.60)" font-family="Liberation Serif" font-size="14.20" xml:space="preserve">GeV,</text>
<text transform="translate(465.08 42.60)" font-family="Liberation Serif" font-style="italic" font-size="14.60" xml:space="preserve">P</text>
<text transform="translate(473.48 44.60)" font-family="Liberation Serif" font-style="italic" font-size="10.50" xml:space="preserve">e</text>
<text transform="translate(481.11 44.00) scale(1.060 1.000)" font-family="Liberation Serif" font-size="15.00" xml:space="preserve">=</text>
<text transform="translate(493.76 43.30) scale(1.130 1.000)" font-family="Liberation Serif" font-size="15.00" xml:space="preserve">−</text>
<text transform="translate(502.96 42.60)" font-family="Liberation Serif" font-size="14.20" xml:space="preserve">0.8</text>
</svg></body></html>
